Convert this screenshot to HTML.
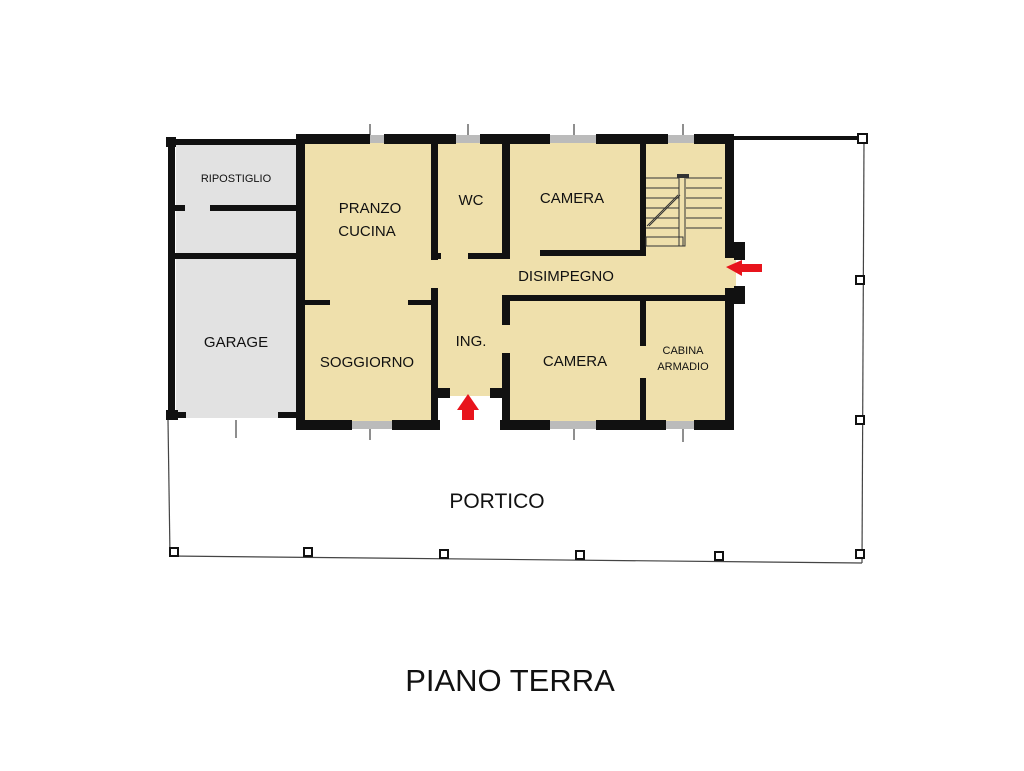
<!DOCTYPE html>
<html><head><meta charset="utf-8"><style>
html,body{margin:0;padding:0;background:#fff;}
svg{display:block}
text{font-family:"Liberation Sans",sans-serif;fill:#111;}
</style></head><body>
<svg width="1024" height="771" viewBox="0 0 1024 771" xmlns="http://www.w3.org/2000/svg">
<!-- porch outline -->
<g stroke="#444" stroke-width="1.2" fill="none">
<line x1="168" y1="420" x2="170" y2="556"/>
<line x1="170" y1="556" x2="862" y2="563"/>
<line x1="864" y1="140" x2="862" y2="563"/>
<line x1="236" y1="420" x2="236" y2="438"/>
<line x1="370" y1="420" x2="370" y2="440"/>
<line x1="574" y1="426" x2="574" y2="440"/>
<line x1="683" y1="426" x2="683" y2="442"/>
<line x1="370" y1="124" x2="370" y2="136"/>
<line x1="468" y1="124" x2="468" y2="136"/>
<line x1="574" y1="124" x2="574" y2="136"/>
<line x1="683" y1="124" x2="683" y2="136"/>
</g>
<rect x="734" y="136" width="128" height="4" fill="#111"/>
<g fill="#fff" stroke="#111" stroke-width="2">
<rect x="858" y="134" width="9" height="9"/>
<rect x="856" y="276" width="8" height="8"/>
<rect x="856" y="416" width="8" height="8"/>
<rect x="856" y="550" width="8" height="8"/>
<rect x="715" y="552" width="8" height="8"/>
<rect x="576" y="551" width="8" height="8"/>
<rect x="440" y="550" width="8" height="8"/>
<rect x="304" y="548" width="8" height="8"/>
<rect x="170" y="548" width="8" height="8"/>
</g>
<!-- floor fills -->
<rect x="176" y="144" width="120" height="274" fill="#e2e2e2"/>
<rect x="300" y="140" width="430" height="282" fill="#efe0ac"/>
<rect x="436" y="396" width="70" height="34" fill="#fff"/>
<rect x="730" y="258" width="6" height="30" fill="#efe0ac"/>
<!-- walls -->
<g fill="#111">
<!-- garage/ripostiglio -->
<rect x="166" y="137" width="10" height="10"/>
<rect x="176" y="139" width="120" height="6"/>
<rect x="168" y="145" width="7" height="275"/>
<rect x="175" y="205" width="10" height="6"/>
<rect x="210" y="205" width="86" height="6"/>
<rect x="175" y="253" width="121" height="6"/>
<rect x="166" y="410" width="12" height="10"/>
<rect x="176" y="412" width="10" height="6"/>
<rect x="278" y="412" width="18" height="6"/>
<!-- main outer -->
<rect x="296" y="134" width="74" height="10"/>
<rect x="384" y="134" width="72" height="10"/>
<rect x="480" y="134" width="70" height="10"/>
<rect x="596" y="134" width="72" height="10"/>
<rect x="694" y="134" width="40" height="10"/>
<rect x="296" y="134" width="9" height="296"/>
<rect x="725" y="134" width="9" height="124"/>
<rect x="725" y="288" width="9" height="142"/>
<rect x="734" y="242" width="11" height="18"/>
<rect x="734" y="286" width="11" height="18"/>
<rect x="296" y="420" width="56" height="10"/>
<rect x="392" y="420" width="48" height="10"/>
<rect x="500" y="420" width="50" height="10"/>
<rect x="596" y="420" width="70" height="10"/>
<rect x="694" y="420" width="40" height="10"/>
<!-- internal -->
<rect x="431" y="144" width="7" height="116"/>
<rect x="431" y="253" width="10" height="6"/>
<rect x="468" y="253" width="42" height="6"/>
<rect x="502" y="144" width="8" height="115"/>
<rect x="540" y="250" width="100" height="6"/>
<rect x="640" y="144" width="6" height="112"/>
<rect x="304" y="300" width="26" height="5"/>
<rect x="408" y="300" width="30" height="5"/>
<rect x="431" y="288" width="7" height="142"/>
<rect x="502" y="295" width="232" height="6"/>
<rect x="502" y="295" width="8" height="30"/>
<rect x="502" y="353" width="8" height="77"/>
<rect x="438" y="388" width="12" height="10"/>
<rect x="490" y="388" width="12" height="10"/>
<rect x="640" y="301" width="6" height="45"/>
<rect x="640" y="378" width="6" height="42"/>
</g>
<!-- windows -->
<g fill="#bbb">
<rect x="352" y="421" width="40" height="8"/>
<rect x="550" y="421" width="46" height="8"/>
<rect x="666" y="421" width="28" height="8"/>
<rect x="370" y="135" width="14" height="8"/>
<rect x="456" y="135" width="24" height="8"/>
<rect x="550" y="135" width="46" height="8"/>
<rect x="668" y="135" width="26" height="8"/>
<rect x="296" y="420" width="0" height="0"/>
</g>
<!-- stairs -->
<g stroke="#333" stroke-width="1" fill="none">
<line x1="646" y1="178" x2="679" y2="178"/>
<line x1="646" y1="188" x2="679" y2="188"/>
<line x1="646" y1="198" x2="679" y2="198"/>
<line x1="646" y1="208" x2="679" y2="208"/>
<line x1="646" y1="218" x2="679" y2="218"/>
<line x1="646" y1="228" x2="679" y2="228"/>
<line x1="646" y1="237" x2="683" y2="237"/>
<line x1="686" y1="178" x2="722" y2="178"/>
<line x1="686" y1="188" x2="722" y2="188"/>
<line x1="686" y1="198" x2="722" y2="198"/>
<line x1="686" y1="208" x2="722" y2="208"/>
<line x1="686" y1="218" x2="722" y2="218"/>
<line x1="686" y1="228" x2="722" y2="228"/>
<rect x="679" y="176" width="6" height="70"/>
<rect x="646" y="237" width="37" height="9"/>
<line x1="647" y1="226" x2="678" y2="195"/>
<line x1="649" y1="226" x2="680" y2="195"/>
</g>
<rect x="677" y="174" width="12" height="4" fill="#333"/>
<!-- arrows -->
<g fill="#e8141c">
<polygon points="462,410 462,420 474,420 474,410 479,410 468,394 457,410"/>
<polygon points="726,267 742,260 742,264 762,264 762,272 742,272 742,276"/>
</g>
<!-- labels -->
<text x="236" y="182" font-size="11" text-anchor="middle">RIPOSTIGLIO</text>
<text x="236" y="347" font-size="15" text-anchor="middle">GARAGE</text>
<text x="370" y="213" font-size="15" text-anchor="middle">PRANZO</text>
<text x="367" y="236" font-size="15" text-anchor="middle">CUCINA</text>
<text x="367" y="367" font-size="15" text-anchor="middle">SOGGIORNO</text>
<text x="471" y="205" font-size="15" text-anchor="middle">WC</text>
<text x="471" y="346" font-size="15" text-anchor="middle">ING.</text>
<text x="572" y="203" font-size="15" text-anchor="middle">CAMERA</text>
<text x="566" y="281" font-size="15" text-anchor="middle">DISIMPEGNO</text>
<text x="575" y="366" font-size="15" text-anchor="middle">CAMERA</text>
<text x="683" y="354" font-size="11" text-anchor="middle">CABINA</text>
<text x="683" y="370" font-size="11" text-anchor="middle">ARMADIO</text>
<text x="497" y="508" font-size="21" text-anchor="middle">PORTICO</text>
<text x="510" y="691" font-size="31" text-anchor="middle">PIANO TERRA</text>
</svg>
</body></html>
